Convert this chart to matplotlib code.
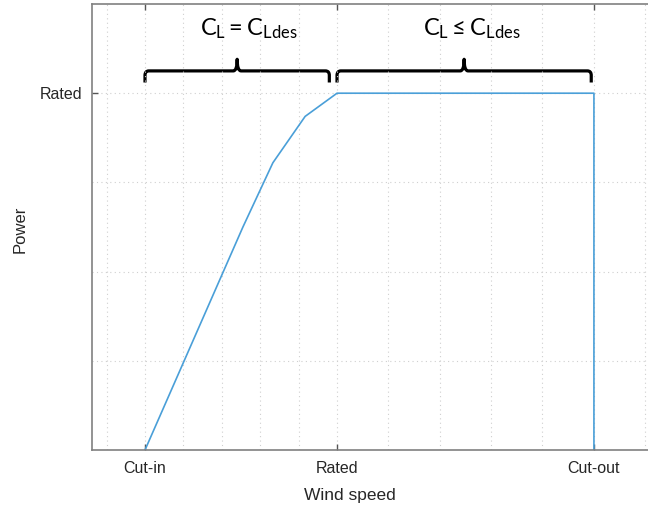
import matplotlib.pyplot as plt
from matplotlib.path import Path
from matplotlib.patches import PathPatch

# datos (unidades arbitrarias)
wind = [3.0, 5.55, 6.33, 7.17, 8.0, 14.69, 14.69]
power = [0.0, 2.5, 3.22, 3.74, 4.0, 4.0, 0.0]

x_ticks = [3.0, 8.0, 14.69]
x_labels = ['Cut-in', 'Rated', 'Cut-out']
y_ticks = [4.0]
y_labels = ['Rated']

x_grid = [2, 3, 4, 5, 6, 7, 8, 9.34, 10.68, 12.02, 13.35, 14.69, 16.03]
y_grid = [1, 2, 3, 4]

plt.rcParams['font.family'] = ['Liberation Sans', 'DejaVu Sans']
plt.rcParams['mathtext.fontset'] = 'custom'
plt.rcParams['mathtext.rm'] = 'Lato'
plt.rcParams['mathtext.it'] = 'Lato'


def brace(ax, x0, x1, y, h, tip, rx, ry):
    xm = (x0 + x1) / 2
    verts = [(x0, y - h), (x0, y - ry), (x0, y), (x0 + rx, y),
             (xm - rx, y), (xm, y), (xm, y + tip),
             (xm, y), (xm + rx, y),
             (x1 - rx, y), (x1, y), (x1, y - ry), (x1, y - h)]
    codes = [Path.MOVETO, Path.LINETO, Path.CURVE3, Path.CURVE3,
             Path.LINETO, Path.CURVE3, Path.CURVE3,
             Path.CURVE3, Path.CURVE3,
             Path.LINETO, Path.CURVE3, Path.CURVE3, Path.LINETO]
    ax.add_patch(PathPatch(Path(verts, codes), fill=False, lw=2.3,
                           color='black', capstyle='butt', joinstyle='round'))


fig = plt.figure(figsize=(6.48, 5.09), dpi=100)
ax = fig.add_axes([92 / 648, 59 / 509, 558 / 648, 446 / 509])

ax.plot(wind, power, color='#4A9FD8', lw=1.2)

ax.set_xlim(1.62, 16.15)
ax.set_ylim(0, 5.0)

ax.set_xticks(x_ticks)
ax.set_xticklabels(x_labels)
ax.set_yticks(y_ticks)
ax.set_yticklabels(y_labels)
ax.set_xticks(x_grid, minor=True)
ax.set_yticks(y_grid, minor=True)
ax.tick_params(which='major', direction='in', length=4, width=1, color='#555555',
               top=True, labelsize=11.5, labelcolor='#262626')
ax.tick_params(axis='x', which='major', pad=8)
ax.tick_params(axis='y', which='major', pad=7)
ax.tick_params(which='minor', length=0)
ax.grid(which='both', color='#cfcfcf', linestyle=(0, (1, 3)), lw=0.8)

for s in ['left', 'bottom', 'top']:
    ax.spines[s].set_color('#808080')
    ax.spines[s].set_linewidth(1.2)
ax.spines['right'].set_visible(False)

ax.set_xlabel('Wind speed', fontsize=12.5, color='#262626', va='center')
ax.xaxis.set_label_coords(0.462, -0.103)
ax.set_ylabel('Power', fontsize=12, color='#262626', va='center')
ax.yaxis.set_label_coords(-0.129, 0.4955)

# llaves y textos de anotacion
brace(ax, 3.0, 7.8, 4.25, 0.13, 0.13, 0.1, 0.05)
brace(ax, 8.0, 14.62, 4.25, 0.13, 0.13, 0.1, 0.05)
ax.text(5.7, 4.72, r'$\mathrm{C_L = C_{Ldes}}$', fontsize=17, ha='center', va='center')
ax.text(11.5, 4.72, r'$\mathrm{C_L \leq C_{Ldes}}$', fontsize=17, ha='center', va='center')

fig.savefig('out.png', dpi=100)
